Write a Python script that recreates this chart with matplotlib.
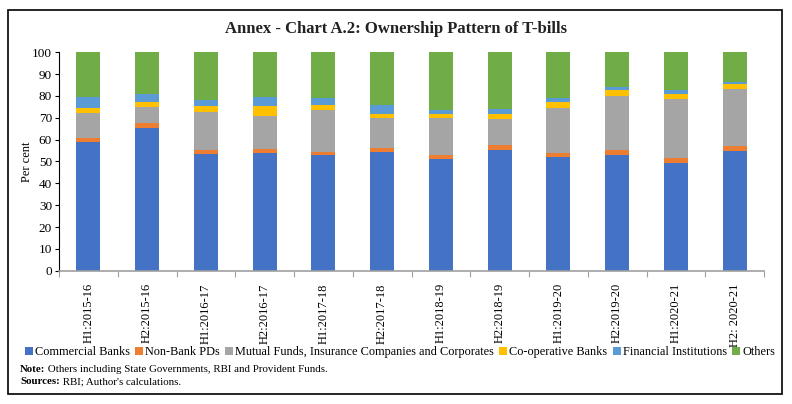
import numpy as np
import matplotlib
matplotlib.use("Agg")
import matplotlib.pyplot as plt

plt.rcParams['font.family'] = ['Liberation Serif', 'DejaVu Serif']

periods = ['H1:2015-16', 'H2:2015-16', 'H1:2016-17', 'H2:2016-17', 'H1:2017-18', 'H2:2017-18',
           'H1:2018-19', 'H2:2018-19', 'H1:2019-20', 'H2:2019-20', 'H1:2020-21', 'H2: 2020-21']

commercial_banks = [59.1, 65.5, 53.4, 53.9, 52.8, 54.5, 51.3, 55.4, 52.1, 53.0, 49.5, 55.0]
non_bank_pds = [1.8, 2.0, 1.7, 1.7, 1.4, 1.8, 1.8, 2.3, 1.8, 2.1, 2.1, 2.3]
mutual_funds = [11.2, 7.3, 17.4, 15.4, 19.4, 13.5, 16.8, 11.9, 20.6, 25.1, 27.2, 25.9]
coop_banks = [2.6, 2.6, 2.9, 4.4, 2.3, 2.1, 1.7, 2.2, 2.6, 2.5, 2.1, 2.1]
fin_institutions = [4.7, 3.7, 2.9, 4.0, 3.0, 3.8, 2.0, 2.1, 2.1, 1.6, 1.7, 1.3]
others = [20.6, 18.9, 21.7, 20.6, 21.1, 24.3, 26.4, 26.1, 20.8, 15.7, 17.4, 13.4]

series = [
    ('Commercial Banks', commercial_banks, '#4472C4'),
    ('Non-Bank PDs', non_bank_pds, '#ED7D31'),
    ('Mutual Funds, Insurance Companies and Corporates', mutual_funds, '#A5A5A5'),
    ('Co-operative Banks', coop_banks, '#FFC000'),
    ('Financial Institutions', fin_institutions, '#5B9BD5'),
    ('Others', others, '#70AD47'),
]

fig = plt.figure(figsize=(7.92, 4.04), dpi=100)
ax = fig.add_axes([59/792, 1 - 270.7/404, (764-59)/792, (270.7-52.3)/404])

x = np.arange(len(periods))
bottom = np.zeros(len(periods))
for name, vals, col in series:
    ax.bar(x, vals, width=0.41, bottom=bottom, color=col, label=name)
    bottom += np.array(vals)

ax.set_xlim(-0.5, len(periods) - 0.5)
ax.set_ylim(0, 100)
ax.set_yticks(range(0, 101, 10))
ax.tick_params(axis='y', labelsize=9.5, length=3, width=0.8, pad=2)
ax.set_xticks(x)
ax.set_xticklabels(periods, rotation=90, fontsize=9)
ax.tick_params(axis='x', length=0, pad=9)
ax.set_xticks(np.arange(-0.5, len(periods)), minor=True)
ax.tick_params(axis='x', which='minor', length=4, color='#A0A0A0', width=0.8)
for s in ['top', 'right']:
    ax.spines[s].set_visible(False)
ax.spines['bottom'].set_color('#A0A0A0')
ax.spines['bottom'].set_linewidth(1.2)
ax.spines['left'].set_linewidth(0.8)
ax.set_ylabel('Per cent', fontsize=9, labelpad=-1)

fig.text(396/792, 1 - 29/404, 'Annex - Chart A.2: Ownership Pattern of T-bills',
         ha='center', va='center', fontsize=12, fontweight='bold', color='#222222')

handles, labels = ax.get_legend_handles_labels()
fig.legend(handles, labels, loc='center', bbox_to_anchor=(400/792, 1 - 352/404), ncol=6,
           frameon=False, fontsize=8.8, handlelength=0.65, handleheight=0.65,
           handletextpad=0.15, columnspacing=0.45, borderpad=0)

# notes: bold lead-in followed by regular text
fig.canvas.draw()
renderer = fig.canvas.get_renderer()
for ypix, lead, rest in [(369, 'Note:', ' Others including State Governments, RBI and Provident Funds.'),
                         (382, 'Sources:', ' RBI; Author\'s calculations.')]:
    t = fig.text(20/792, 1 - ypix/404, lead, fontsize=7.8, fontweight='bold', va='center')
    w = t.get_window_extent(renderer).width
    fig.text((20 + w)/792, 1 - ypix/404, rest, fontsize=7.8, va='center')

border = plt.Rectangle((8/792, 1 - 394/404), (782-8)/792, (394-10)/404, transform=fig.transFigure,
                       fill=False, edgecolor='black', linewidth=1.2)
fig.add_artist(border)

fig.savefig('out.png', dpi=100)
